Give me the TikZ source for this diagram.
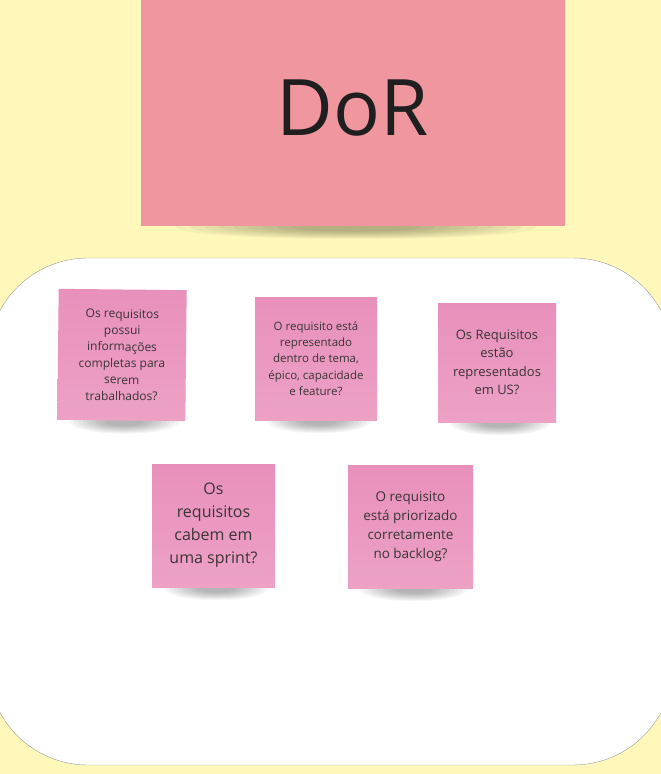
\documentclass[tikz,border=0pt]{standalone}
\usepackage{fontspec}
\setmainfont{Open Sans}
\usetikzlibrary{positioning}
\definecolor{board}{HTML}{FFF8BA}
\definecolor{dorpink}{HTML}{F0969F}
\definecolor{notetop}{HTML}{E890BB}
\definecolor{notebot}{HTML}{EDA1C5}
\definecolor{notetext}{HTML}{3A3436}
\pgfdeclarelayer{back}
\pgfdeclarelayer{shade}
\pgfsetlayers{back,shade,main}
\newcommand\paperdrop[2]{%
  \foreach \r in {1,0.92,...,0.3}
    \fill[black,opacity=0.035] ([xshift=3pt,yshift=-1pt]#1.south) ellipse ({\r*#2} and {\r*12});}

\begin{document}
\begin{tikzpicture}[x=1pt,y=-1pt,
    note/.style={top color=notetop,bottom color=notebot,text=notetext,align=center,inner sep=0pt},
    bignote/.style={fill=dorpink,text=black!88,inner sep=0pt,minimum width=424pt,minimum height=236pt}]
    \useasboundingbox (0,0) rectangle (661,774);
    \clip (0,0) rectangle (661,774);
    \begin{pgfonlayer}{back}
    \fill[board] (0,0) rectangle (661,774);
    % board
    \draw[gray!80,fill=white,rounded corners=100pt] (-12,258) rectangle (673,765);
    \end{pgfonlayer}
    % notes
    \node[bignote,font=\fontsize{78}{90}\selectfont] (dor) at (353,108) {DoR};
    \node[note,minimum width=128pt,minimum height=131pt,rotate=-0.6,font=\fontsize{12}{16.5}\selectfont] (q1) at (122,355)
        {Os requisitos\\possui\\informações\\completas para\\serem\\trabalhados?};
    \node[note,minimum width=122pt,minimum height=123pt,font=\fontsize{11.5}{16.3}\selectfont] (q2) at (316,358.5)
        {O requisito está\\representado\\dentro de tema,\\épico, capacidade\\e feature?};
    \node[note,minimum width=118pt,minimum height=119pt,font=\fontsize{13}{18.5}\selectfont] (q3) at (497,362.5)
        {Os Requisitos\\estão\\representados\\em US?};
    \node[note,minimum width=123pt,minimum height=123pt,font=\fontsize{16}{23}\selectfont] (q4) at (213.5,525.5)
        {Os\\requisitos\\cabem em\\uma sprint?};
    \node[note,minimum width=125pt,minimum height=123pt,font=\fontsize{13.5}{19}\selectfont] (q5) at (410.5,526.5)
        {O requisito\\está priorizado\\corretamente\\no backlog?};
    % shadows under the notes
    \begin{pgfonlayer}{shade}
    \paperdrop{dor}{180}
    \paperdrop{q1}{55}
    \paperdrop{q2}{52}
    \paperdrop{q3}{50}
    \paperdrop{q4}{52}
    \paperdrop{q5}{54}
    \end{pgfonlayer}
\end{tikzpicture}
\end{document}
